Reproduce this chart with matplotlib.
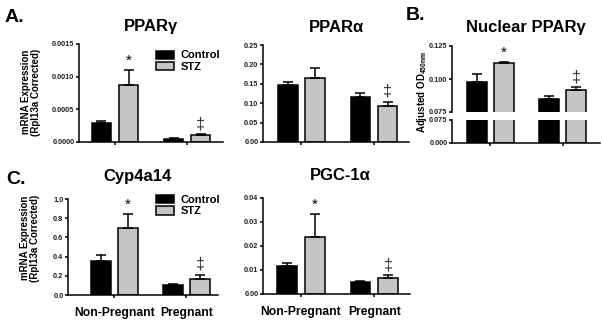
import numpy as np
import matplotlib
matplotlib.use("Agg")
import matplotlib.pyplot as plt

plt.rcParams['font.family'] = ['Liberation Sans', 'DejaVu Sans']
plt.rcParams['font.weight'] = 'bold'
plt.rcParams['mathtext.fontset'] = 'custom'
plt.rcParams['mathtext.rm'] = 'Liberation Sans:bold'
plt.rcParams['mathtext.bf'] = 'Liberation Sans:bold'

groups = ['Non-Pregnant', 'Pregnant']
series = ['Control', 'STZ']

pparg_ctrl = [0.00029, 0.00004]
pparg_ctrl_err = [0.00003, 0.000015]
pparg_stz = [0.00087, 0.00010]
pparg_stz_err = [0.00023, 0.00002]

ppara_ctrl = [0.147, 0.115]
ppara_ctrl_err = [0.008, 0.012]
ppara_stz = [0.166, 0.094]
ppara_stz_err = [0.025, 0.010]

nuc_ctrl = [0.0974, 0.0850]
nuc_ctrl_err = [0.0063, 0.0018]
nuc_stz = [0.1118, 0.0913]
nuc_stz_err = [0.0012, 0.0027]

cyp_ctrl = [0.358, 0.100]
cyp_ctrl_err = [0.055, 0.018]
cyp_stz = [0.694, 0.163]
cyp_stz_err = [0.146, 0.049]

pgc_ctrl = [0.0116, 0.0050]
pgc_ctrl_err = [0.0013, 0.0004]
pgc_stz = [0.0237, 0.0068]
pgc_stz_err = [0.0095, 0.0010]

# significance marks above (Control, STZ) bars per group
pparg_marks = [('', '*'), ('', '‡')]
ppara_marks = [('', ''), ('', '‡')]
nuc_marks = [('', '*'), ('', '‡')]
cyp_marks = [('', '*'), ('', '‡')]
pgc_marks = [('', '*'), ('', '‡')]

W, H = 603, 323
fig = plt.figure(figsize=(W / 100, H / 100), dpi=100)

GRAY = '#c4c4c4'
LW = 1.1
BW = 0.27
OFF = 0.1875


def px_axes(l, t, r, b):
    return fig.add_axes([l / W, 1 - b / H, (r - l) / W, (b - t) / H])


def style(ax, xlim, ylim, yticks, fmt, xlabels=False):
    ax.set_xlim(*xlim)
    ax.set_ylim(*ylim)
    for s in ('top', 'right'):
        ax.spines[s].set_visible(False)
    for s in ('left', 'bottom'):
        ax.spines[s].set_linewidth(LW)
    ax.set_yticks(yticks)
    ax.set_yticklabels([fmt.format(v) for v in yticks])
    ax.set_xticks([0, 1])
    if xlabels:
        ax.set_xticklabels(groups, fontsize=8.7, fontweight='bold')
    else:
        ax.set_xticklabels([])
    ax.tick_params(axis='y', labelsize=5.3, length=2.5, width=LW, pad=0.8,
                   labelcolor='#222222')
    ax.tick_params(axis='x', length=2.5, width=LW, pad=6)


def draw(ax, ctrl, ctrl_err, stz, stz_err, marks=None, legend=False):
    x = np.arange(len(groups))
    b1 = ax.bar(x - OFF, ctrl, BW, color='black', edgecolor='black', lw=LW,
                label=series[0])
    b2 = ax.bar(x + OFF, stz, BW, color=GRAY, edgecolor='black', lw=LW,
                label=series[1])
    for xs, v, e in ((x - OFF, ctrl, ctrl_err), (x + OFF, stz, stz_err)):
        ax.errorbar(xs, v, yerr=[np.zeros(len(v)), e], fmt='none',
                    ecolor='black', elinewidth=LW, capsize=3.5, capthick=LW)
    if marks is not None:
        for i, (m1, m2) in enumerate(marks):
            for m, xx, top in ((m1, i - OFF, ctrl[i] + ctrl_err[i]),
                               (m2, i + OFF, stz[i] + stz_err[i])):
                if m == '*':
                    ax.annotate('*', (xx, top), xytext=(0, 1.5),
                                textcoords='offset points', ha='center',
                                va='bottom', fontsize=11, fontweight='normal')
                elif m == '‡':
                    ax.annotate('‡', (xx, top), xytext=(0, 2),
                                textcoords='offset points', ha='center',
                                va='bottom', fontsize=11.5, fontweight='normal',
                                color='#333333')
    if legend:
        ax.legend(handles=[b1, b2], loc='upper left',
                  bbox_to_anchor=legend, bbox_transform=fig.transFigure,
                  frameon=False, fontsize=8, borderpad=0, borderaxespad=0,
                  handlelength=1.6, handleheight=0.75, handletextpad=0.6,
                  labelspacing=0.12)
    return b1, b2


# A. PPARg
ax = px_axes(79, 44, 223, 142)
draw(ax, pparg_ctrl, pparg_ctrl_err, pparg_stz, pparg_stz_err, pparg_marks,
     legend=(156 / W, 1 - 50.5 / H))
style(ax, (-0.5, 1.5), (0, 0.0015), [0, 0.0005, 0.0010, 0.0015], '{:.4f}')
ax.set_title('PPARγ', fontsize=12, fontweight='bold', pad=9)

# PPARa
ax = px_axes(263, 45, 409, 142)
draw(ax, ppara_ctrl, ppara_ctrl_err, ppara_stz, ppara_stz_err, ppara_marks)
style(ax, (-0.531, 1.483), (0, 0.25), [0, 0.05, 0.10, 0.15, 0.20, 0.25], '{:.2f}')
ax.set_title('PPARα', fontsize=12, fontweight='bold', pad=9)

# B. Nuclear PPARg, broken axis
nuc_xlim = (-0.531, 1.517)
axu = px_axes(452, 46, 600, 112)
draw(axu, nuc_ctrl, nuc_ctrl_err, nuc_stz, nuc_stz_err, nuc_marks)
style(axu, nuc_xlim, (0.075, 0.125), [0.075, 0.100, 0.125], '{:.3f}')
axu.spines['bottom'].set_visible(False)
axu.tick_params(axis='x', length=0)
axu.set_title('Nuclear PPARγ', fontsize=12, fontweight='bold', pad=10)

axl = px_axes(452, 120, 600, 142.5)
draw(axl, nuc_ctrl, nuc_ctrl_err, nuc_stz, nuc_stz_err)
style(axl, nuc_xlim, (0, 0.075), [0, 0.075], '{:.3f}')

# C. Cyp4a14
ax = px_axes(68, 199, 218, 295)
draw(ax, cyp_ctrl, cyp_ctrl_err, cyp_stz, cyp_stz_err, cyp_marks,
     legend=(156 / W, 1 - 195 / H))
style(ax, (-0.646, 1.438), (0, 1.0), [0, 0.2, 0.4, 0.6, 0.8, 1.0], '{:.1f}',
      xlabels=True)

# PGC-1a
ax = px_axes(263, 198, 410, 294)
draw(ax, pgc_ctrl, pgc_ctrl_err, pgc_stz, pgc_stz_err, pgc_marks)
style(ax, (-0.52, 1.49), (0, 0.04), [0, 0.01, 0.02, 0.03, 0.04], '{:.2f}',
      xlabels=True)


# titles / labels placed in figure pixels
def ftext(x, y, s, **kw):
    fig.text(x / W, 1 - y / H, s, **kw)


ftext(137, 177, 'Cyp4a14', fontsize=12, fontweight='bold', ha='center', va='center')
ftext(340, 175, 'PGC-1α', fontsize=12, fontweight='bold', ha='center', va='center')

ftext(5, 17, 'A.', fontsize=14, fontweight='bold', va='center')
ftext(406, 15, 'B.', fontsize=14, fontweight='bold', va='center')
ftext(6, 180, 'C.', fontsize=14, fontweight='bold', va='center')

ylab = 'mRNA Expression\n(Rpl13a Corrected)'
ftext(31, 92, ylab, fontsize=7, fontweight='bold', rotation=90,
      ha='center', va='center', linespacing=1.05, multialignment='center')
ftext(30, 238, ylab, fontsize=7, fontweight='bold', rotation=90,
      ha='center', va='center', linespacing=1.05, multialignment='center')
ftext(422, 92, r'Adjusted OD$_{\mathbf{450nm}}$', fontsize=7, fontweight='bold',
      rotation=90, ha='center', va='center')

fig.savefig('out.png', dpi=100)
